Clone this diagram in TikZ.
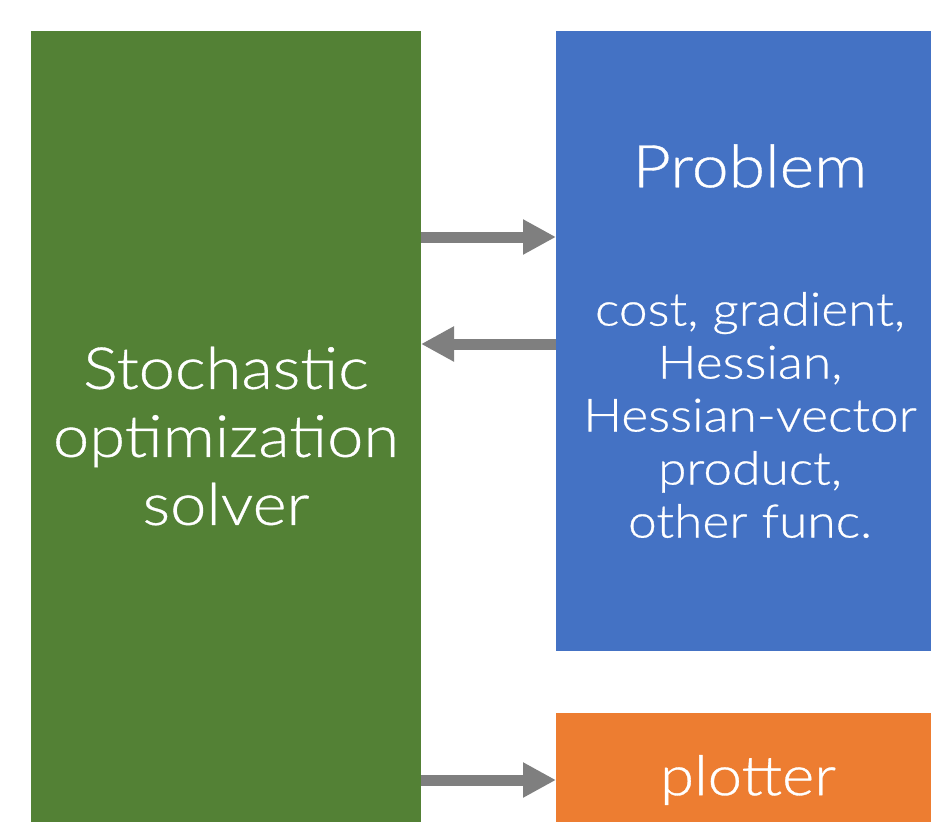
\documentclass[tikz,border=0pt]{standalone}
\usepackage{fontspec}
\setmainfont{Lato Light}[FakeStretch=1.12,FakeBold=0.6]
\usetikzlibrary{arrows.meta}

\definecolor{solvergreen}{HTML}{538135}
\definecolor{problemblue}{HTML}{4472C4}
\definecolor{plotterorange}{HTML}{ED7D31}
\definecolor{arrowgray}{HTML}{7F7F7F}

\tikzset{
  block/.style={draw=none, inner sep=0pt, outer sep=0pt},
  label/.style={text=white, align=center, inner sep=0pt},
  flow/.style={arrowgray, line width=11pt, -{Triangle[length=33pt,width=33pt]}},
}

\begin{document}
\begin{tikzpicture}[x=1pt,y=-1pt]
\useasboundingbox (0,0) rectangle (931,822);

\node[block, fill=solvergreen, minimum width=390pt, minimum height=791pt] at (226,426.5) (solver) {};
\node[block, fill=problemblue, minimum width=375pt, minimum height=620pt] at (743.5,341) (problem) {};
\node[block, fill=plotterorange, minimum width=375pt, minimum height=109pt] at (743.5,767.5) (plotter) {};

\node[label, font=\fontsize{58}{68}\selectfont] at (226,436) (solvertext) {Stochastic\\optimization\\solver};
\node[label, font=\fontsize{59}{60}\selectfont] at (750,166) (problemtitle) {Problem};
\node[label, font=\fontsize{46}{53}\selectfont] at (750,415) (problemfuncs) {cost, gradient,\\Hessian,\\Hessian-vector\\product,\\other func.};
\node[label, font=\fontsize{55}{56}\selectfont] at (748,780) (plottertext) {plotter};

% solver <-> problem
\draw[flow] ([yshift=-206pt]solver.north east) -- ([yshift=-206pt]problem.north west);
\draw[flow] ([yshift=-313pt]problem.north west) -- ([yshift=-313pt]solver.north east);
% solver -> plotter
\draw[flow] ([yshift=-67pt]solver.north east |- plotter.north west) -- ([yshift=-67pt]plotter.north west);
\end{tikzpicture}
\end{document}
